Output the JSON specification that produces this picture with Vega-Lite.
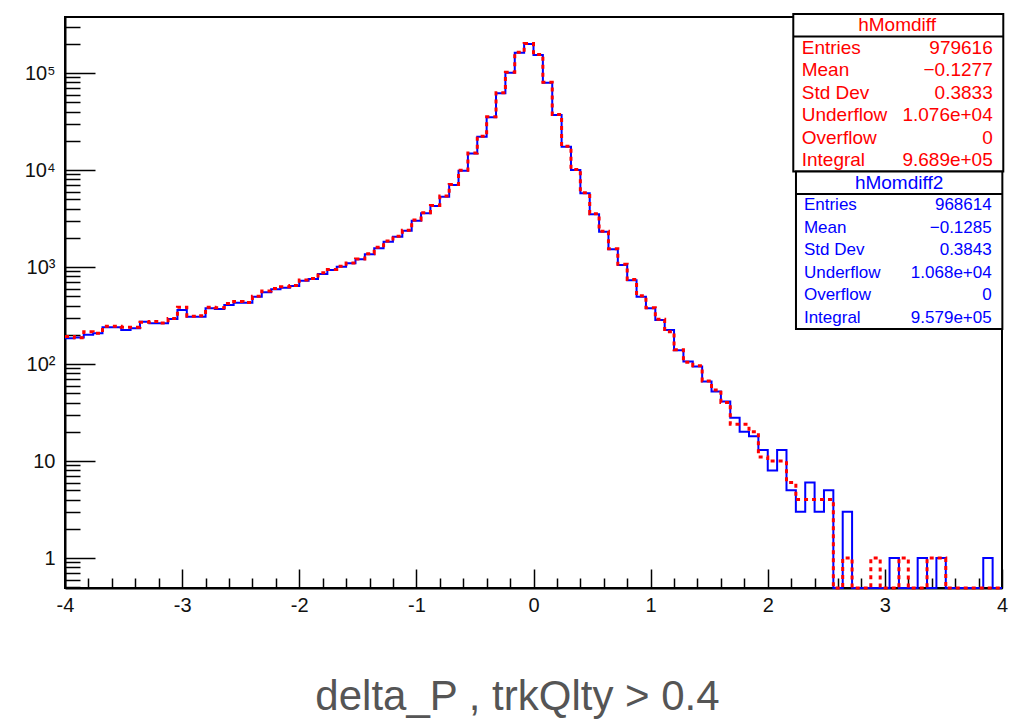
{
  "$schema": "https://vega.github.io/schema/vega-lite/v6.json",
  "autosize": {"type": "none"},
  "width": 937,
  "height": 571,
  "padding": {"left": 65, "top": 17, "right": 20, "bottom": 133},
  "background": "white",
  "config": {
    "view": {"stroke": "black", "strokeWidth": 2},
    "font": "Liberation Sans",
    "axis": {"grid": false, "title": null, "domainColor": "black", "domainWidth": 2, "tickColor": "black", "tickWidth": 1.5, "labelColor": "#111111", "labelFont": "Liberation Sans", "labelFontSize": 20, "labelOverlap": false, "labelFlush": false, "tickCount": 200}
  },
  "title": {"text": "delta_P , trkQlty > 0.4", "orient": "bottom", "anchor": "middle", "frame": "group", "offset": 53, "dx": -16, "font": "Liberation Sans", "fontSize": 42, "fontWeight": "normal", "color": "#555555"},
  "datasets": {
    "bins": [
      {"x": -4, "hMomdiff": 192, "hMomdiff2": 184},
      {"x": -3.92, "hMomdiff": 186, "hMomdiff2": 188},
      {"x": -3.84, "hMomdiff": 215, "hMomdiff2": 200},
      {"x": -3.76, "hMomdiff": 207, "hMomdiff2": 207},
      {"x": -3.68, "hMomdiff": 245, "hMomdiff2": 239},
      {"x": -3.6, "hMomdiff": 245, "hMomdiff2": 239},
      {"x": -3.52, "hMomdiff": 240, "hMomdiff2": 224},
      {"x": -3.44, "hMomdiff": 240, "hMomdiff2": 233},
      {"x": -3.36, "hMomdiff": 270, "hMomdiff2": 273},
      {"x": -3.28, "hMomdiff": 275, "hMomdiff2": 263},
      {"x": -3.2, "hMomdiff": 265, "hMomdiff2": 263},
      {"x": -3.12, "hMomdiff": 295, "hMomdiff2": 291},
      {"x": -3.04, "hMomdiff": 385, "hMomdiff2": 360},
      {"x": -2.96, "hMomdiff": 310, "hMomdiff2": 307},
      {"x": -2.88, "hMomdiff": 315, "hMomdiff2": 307},
      {"x": -2.8, "hMomdiff": 385, "hMomdiff2": 375},
      {"x": -2.72, "hMomdiff": 380, "hMomdiff2": 370},
      {"x": -2.64, "hMomdiff": 420, "hMomdiff2": 406},
      {"x": -2.56, "hMomdiff": 440, "hMomdiff2": 428},
      {"x": -2.48, "hMomdiff": 430, "hMomdiff2": 428},
      {"x": -2.4, "hMomdiff": 500, "hMomdiff2": 494},
      {"x": -2.32, "hMomdiff": 565, "hMomdiff2": 550},
      {"x": -2.24, "hMomdiff": 600, "hMomdiff2": 589},
      {"x": -2.16, "hMomdiff": 625, "hMomdiff2": 612},
      {"x": -2.08, "hMomdiff": 645, "hMomdiff2": 637},
      {"x": -2, "hMomdiff": 735, "hMomdiff2": 722},
      {"x": -1.92, "hMomdiff": 760, "hMomdiff2": 752},
      {"x": -1.84, "hMomdiff": 870, "hMomdiff2": 847},
      {"x": -1.76, "hMomdiff": 945, "hMomdiff2": 931},
      {"x": -1.68, "hMomdiff": 1020, "hMomdiff2": 1007},
      {"x": -1.6, "hMomdiff": 1100, "hMomdiff2": 1091},
      {"x": -1.52, "hMomdiff": 1210, "hMomdiff2": 1200},
      {"x": -1.44, "hMomdiff": 1370, "hMomdiff2": 1352},
      {"x": -1.36, "hMomdiff": 1600, "hMomdiff2": 1560},
      {"x": -1.28, "hMomdiff": 1850, "hMomdiff2": 1824},
      {"x": -1.2, "hMomdiff": 2080, "hMomdiff2": 2055},
      {"x": -1.12, "hMomdiff": 2390, "hMomdiff2": 2367},
      {"x": -1.04, "hMomdiff": 3050, "hMomdiff2": 3004},
      {"x": -0.96, "hMomdiff": 3620, "hMomdiff2": 3573},
      {"x": -0.88, "hMomdiff": 4300, "hMomdiff2": 4253},
      {"x": -0.8, "hMomdiff": 5380, "hMomdiff2": 5311},
      {"x": -0.72, "hMomdiff": 7100, "hMomdiff2": 7000},
      {"x": -0.64, "hMomdiff": 9950, "hMomdiff2": 9840},
      {"x": -0.56, "hMomdiff": 15000, "hMomdiff2": 14800},
      {"x": -0.48, "hMomdiff": 22300, "hMomdiff2": 22000},
      {"x": -0.4, "hMomdiff": 35300, "hMomdiff2": 34900},
      {"x": -0.32, "hMomdiff": 62400, "hMomdiff2": 61700},
      {"x": -0.24, "hMomdiff": 101800, "hMomdiff2": 100700},
      {"x": -0.16, "hMomdiff": 163500, "hMomdiff2": 161800},
      {"x": -0.08, "hMomdiff": 201000, "hMomdiff2": 199000},
      {"x": 0, "hMomdiff": 155000, "hMomdiff2": 153400},
      {"x": 0.08, "hMomdiff": 80300, "hMomdiff2": 79400},
      {"x": 0.16, "hMomdiff": 37300, "hMomdiff2": 36900},
      {"x": 0.24, "hMomdiff": 17600, "hMomdiff2": 17380},
      {"x": 0.32, "hMomdiff": 10150, "hMomdiff2": 10000},
      {"x": 0.4, "hMomdiff": 5820, "hMomdiff2": 5750},
      {"x": 0.48, "hMomdiff": 3540, "hMomdiff2": 3490},
      {"x": 0.56, "hMomdiff": 2340, "hMomdiff2": 2312},
      {"x": 0.64, "hMomdiff": 1540, "hMomdiff2": 1521},
      {"x": 0.72, "hMomdiff": 1065, "hMomdiff2": 1049},
      {"x": 0.8, "hMomdiff": 745, "hMomdiff2": 730},
      {"x": 0.88, "hMomdiff": 505, "hMomdiff2": 494},
      {"x": 0.96, "hMomdiff": 380, "hMomdiff2": 375},
      {"x": 1.04, "hMomdiff": 290, "hMomdiff2": 284},
      {"x": 1.12, "hMomdiff": 215, "hMomdiff2": 224},
      {"x": 1.2, "hMomdiff": 140, "hMomdiff2": 139},
      {"x": 1.28, "hMomdiff": 104, "hMomdiff2": 106},
      {"x": 1.36, "hMomdiff": 96, "hMomdiff2": 94},
      {"x": 1.44, "hMomdiff": 67, "hMomdiff2": 66},
      {"x": 1.52, "hMomdiff": 54, "hMomdiff2": 52},
      {"x": 1.6, "hMomdiff": 40, "hMomdiff2": 41},
      {"x": 1.68, "hMomdiff": 24, "hMomdiff2": 28},
      {"x": 1.76, "hMomdiff": 24, "hMomdiff2": 20},
      {"x": 1.84, "hMomdiff": 20, "hMomdiff2": 18},
      {"x": 1.92, "hMomdiff": 11, "hMomdiff2": 13},
      {"x": 2, "hMomdiff": 10, "hMomdiff2": 8},
      {"x": 2.08, "hMomdiff": 10, "hMomdiff2": 13},
      {"x": 2.16, "hMomdiff": 6, "hMomdiff2": 5},
      {"x": 2.24, "hMomdiff": 4, "hMomdiff2": 3},
      {"x": 2.32, "hMomdiff": 4, "hMomdiff2": 6},
      {"x": 2.4, "hMomdiff": 4, "hMomdiff2": 3},
      {"x": 2.48, "hMomdiff": 4, "hMomdiff2": 5},
      {"x": 2.56, "hMomdiff": 0, "hMomdiff2": 0},
      {"x": 2.64, "hMomdiff": 1, "hMomdiff2": 3},
      {"x": 2.72, "hMomdiff": 0, "hMomdiff2": 0},
      {"x": 2.8, "hMomdiff": 0, "hMomdiff2": 0},
      {"x": 2.88, "hMomdiff": 1, "hMomdiff2": 0},
      {"x": 2.96, "hMomdiff": 0, "hMomdiff2": 0},
      {"x": 3.04, "hMomdiff": 0, "hMomdiff2": 1},
      {"x": 3.12, "hMomdiff": 1, "hMomdiff2": 0},
      {"x": 3.2, "hMomdiff": 0, "hMomdiff2": 0},
      {"x": 3.28, "hMomdiff": 0, "hMomdiff2": 1},
      {"x": 3.36, "hMomdiff": 1, "hMomdiff2": 0},
      {"x": 3.44, "hMomdiff": 1, "hMomdiff2": 1},
      {"x": 3.52, "hMomdiff": 0, "hMomdiff2": 0},
      {"x": 3.6, "hMomdiff": 0, "hMomdiff2": 0},
      {"x": 3.68, "hMomdiff": 0, "hMomdiff2": 0},
      {"x": 3.76, "hMomdiff": 0, "hMomdiff2": 0},
      {"x": 3.84, "hMomdiff": 0, "hMomdiff2": 1},
      {"x": 3.92, "hMomdiff": 0, "hMomdiff2": 0},
      {"x": 4, "hMomdiff": 0, "hMomdiff2": 0}
    ],
    "stats": [
      {"box": "hMomdiff", "label": "hMomdiff", "value": ""},
      {"box": "hMomdiff", "label": "Entries", "value": "979616"},
      {"box": "hMomdiff", "label": "Mean", "value": "−0.1277"},
      {"box": "hMomdiff", "label": "Std Dev", "value": "0.3833"},
      {"box": "hMomdiff", "label": "Underflow", "value": "1.076e+04"},
      {"box": "hMomdiff", "label": "Overflow", "value": "0"},
      {"box": "hMomdiff", "label": "Integral", "value": "9.689e+05"},
      {"box": "hMomdiff2", "label": "hMomdiff2", "value": ""},
      {"box": "hMomdiff2", "label": "Entries", "value": "968614"},
      {"box": "hMomdiff2", "label": "Mean", "value": "−0.1285"},
      {"box": "hMomdiff2", "label": "Std Dev", "value": "0.3843"},
      {"box": "hMomdiff2", "label": "Underflow", "value": "1.068e+04"},
      {"box": "hMomdiff2", "label": "Overflow", "value": "0"},
      {"box": "hMomdiff2", "label": "Integral", "value": "9.579e+05"}
    ]
  },
  "layer": [
    {
      "data": {"name": "bins"},
      "encoding": {
        "x": {"field": "x", "type": "quantitative", "scale": {"domain": [-4, 4], "nice": false, "zero": false},
          "axis": {"orient": "bottom", "tickCount": 200, "values": [-4,-3.8,-3.6,-3.4,-3.2,-3,-2.8,-2.6,-2.4,-2.2,-2,-1.8,-1.6,-1.4,-1.2,-1,-0.8,-0.6,-0.4,-0.2,0,0.2,0.4,0.6,0.8,1,1.2,1.4,1.6,1.8,2,2.2,2.4,2.6,2.8,3,3.2,3.4,3.6,3.8,4],
            "labelExpr": "abs(datum.value - round(datum.value)) < 1e-9 ? '' + round(datum.value) : ''",
            "tickSize": {"condition": {"test": "abs(datum.value - round(datum.value)) < 1e-9", "value": -19}, "value": -10},
            "labelPadding": 26}}
      },
      "layer": [
        {
          "mark": {"type": "line", "interpolate": "step-after", "stroke": "#0000ff", "strokeWidth": 2},
          "encoding": {
            "y": {"field": "hMomdiff2", "type": "quantitative", "scale": {"type": "log", "domain": [0.4907, 377900], "nice": false, "clamp": true},
              "axis": {"orient": "left", "tickCount": 200, "values": [0.5,0.6,0.7,0.8,0.9,1,2,3,4,5,6,7,8,9,10,20,30,40,50,60,70,80,90,100,200,300,400,500,600,700,800,900,1000,2000,3000,4000,5000,6000,7000,8000,9000,10000,20000,30000,40000,50000,60000,70000,80000,90000,100000,200000,300000],
                "labelExpr": "datum.value == 1 ? '1' : datum.value == 10 ? '10' : datum.value == 100 ? '10²' : datum.value == 1000 ? '10³' : datum.value == 10000 ? '10⁴' : datum.value == 100000 ? '10⁵' : ''",
                "tickSize": {"condition": {"test": "datum.value == 1 || datum.value == 10 || datum.value == 100 || datum.value == 1000 || datum.value == 10000 || datum.value == 100000", "value": -30}, "value": -15},
                "labelPadding": 40}}
          }
        },
        {
          "mark": {"type": "line", "interpolate": "step-after", "stroke": "#ff0000", "strokeWidth": 3, "strokeDash": [4, 4]},
          "encoding": {
            "y": {"field": "hMomdiff", "type": "quantitative"}
          }
        }
      ]
    },
    {
      "data": {"name": "stats"},
      "transform": [{"window": [{"op": "row_number", "as": "line"}]}],
      "encoding": {
        "y": {"field": "line", "type": "quantitative", "scale": {"domain": [0.6333, 26.011], "reverse": true, "nice": false, "zero": false}, "axis": null}
      },
      "layer": [
        {
          "transform": [{"filter": "datum.label == 'hMomdiff'"}],
          "mark": {"type": "rect", "fill": "white", "stroke": "black", "strokeWidth": 2},
          "encoding": {"x": {"datum": 2.218, "type": "quantitative"}, "x2": {"datum": 4.011}, "y": {"datum": 0.5, "type": "quantitative"}, "y2": {"datum": 7.5}}
        },
        {
          "transform": [{"filter": "datum.label == 'hMomdiff2'"}],
          "mark": {"type": "rect", "fill": "white", "stroke": "black", "strokeWidth": 2},
          "encoding": {"x": {"datum": 2.241, "type": "quantitative"}, "x2": {"datum": 4.003}, "y": {"datum": 7.5, "type": "quantitative"}, "y2": {"datum": 14.5}}
        },
        {
          "transform": [{"filter": "datum.label == 'hMomdiff'"}],
          "mark": {"type": "rule", "stroke": "black", "strokeWidth": 2},
          "encoding": {"x": {"datum": 2.218, "type": "quantitative"}, "x2": {"datum": 4.011}, "y": {"datum": 1.5, "type": "quantitative"}}
        },
        {
          "transform": [{"filter": "datum.label == 'hMomdiff2'"}],
          "mark": {"type": "rule", "stroke": "black", "strokeWidth": 2},
          "encoding": {"x": {"datum": 2.241, "type": "quantitative"}, "x2": {"datum": 4.003}, "y": {"datum": 8.5, "type": "quantitative"}}
        },
        {
          "transform": [{"filter": "datum.label == 'hMomdiff'"}],
          "mark": {"type": "text", "align": "center", "baseline": "middle", "fontSize": 19, "color": "#ff0000"},
          "encoding": {"x": {"datum": 3.104, "type": "quantitative"}, "text": {"field": "label"}}
        },
        {
          "transform": [{"filter": "datum.label == 'hMomdiff2'"}],
          "mark": {"type": "text", "align": "center", "baseline": "middle", "fontSize": 19, "color": "#0000ff"},
          "encoding": {"x": {"datum": 3.121, "type": "quantitative"}, "text": {"field": "label"}}
        },
        {
          "transform": [{"filter": "datum.box == 'hMomdiff' && datum.label != datum.box"}],
          "mark": {"type": "text", "align": "left", "baseline": "middle", "fontSize": 19, "color": "#ff0000"},
          "encoding": {"x": {"datum": 2.29, "type": "quantitative"}, "text": {"field": "label"}}
        },
        {
          "transform": [{"filter": "datum.box == 'hMomdiff' && datum.label != datum.box"}],
          "mark": {"type": "text", "align": "right", "baseline": "middle", "fontSize": 19, "color": "#ff0000"},
          "encoding": {"x": {"datum": 3.921, "type": "quantitative"}, "text": {"field": "value"}}
        },
        {
          "transform": [{"filter": "datum.box == 'hMomdiff2' && datum.label != datum.box"}],
          "mark": {"type": "text", "align": "left", "baseline": "middle", "fontSize": 17, "color": "#0000ff"},
          "encoding": {"x": {"datum": 2.309, "type": "quantitative"}, "text": {"field": "label"}}
        },
        {
          "transform": [{"filter": "datum.box == 'hMomdiff2' && datum.label != datum.box"}],
          "mark": {"type": "text", "align": "right", "baseline": "middle", "fontSize": 17, "color": "#0000ff"},
          "encoding": {"x": {"datum": 3.912, "type": "quantitative"}, "text": {"field": "value"}}
        }
      ]
    }
  ],
  "resolve": {"scale": {"y": "independent"}}
}
